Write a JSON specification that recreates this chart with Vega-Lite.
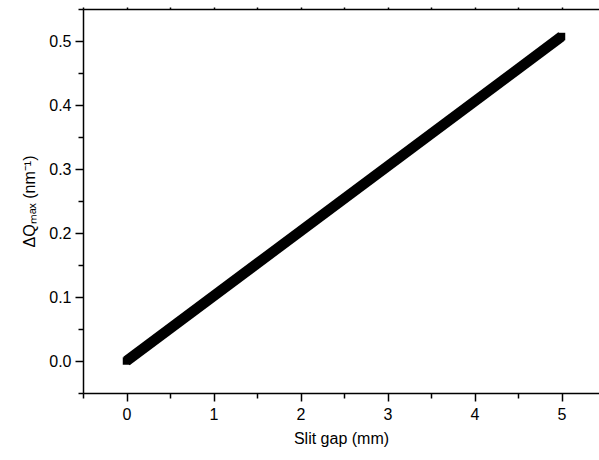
{
  "$schema": "https://vega.github.io/schema/vega-lite/v6.json",
  "autosize": {"type": "none"},
  "padding": {"left": 83, "top": 9, "right": 0, "bottom": 67},
  "width": 516,
  "height": 384,
  "background": "white",
  "config": {
    "view": {"stroke": null},
    "axis": {
      "labelFont": "Liberation Sans",
      "titleFont": "Liberation Sans",
      "labelFontSize": 16,
      "titleFontSize": 16,
      "titleFontWeight": "normal",
      "labelColor": "#000000",
      "titleColor": "#000000",
      "domainColor": "#000000",
      "tickColor": "#000000",
      "domainWidth": 1.5,
      "tickWidth": 1.5,
      "grid": false
    }
  },
  "data": {"values": [
    {"gap": 0, "dq": 0.0},
    {"gap": 5, "dq": 0.507}
  ]},
  "layer": [
    {
      "mark": {"type": "line", "color": "#000000", "strokeWidth": 10.5, "strokeCap": "butt", "clip": false,
               "point": {"shape": "square", "size": 56, "filled": true, "color": "#000000", "strokeWidth": 0}},
      "encoding": {
        "x": {"field": "gap", "type": "quantitative",
              "scale": {"domain": [-0.5, 5.431], "nice": false, "zero": false},
              "axis": {"orient": "bottom", "title": "Slit gap (mm)",
                       "values": [-0.5, 0, 0.5, 1, 1.5, 2, 2.5, 3, 3.5, 4, 4.5, 5],
                       "labelExpr": "round(datum.value*2)%2===0 ? format(datum.value,'d') : ''",
                       "tickSize": {"condition": {"test": "round(datum.value*2)%2===0", "value": 8}, "value": 5},
                       "labelPadding": 5, "titlePadding": 8, "labelFlush": false, "labelOverlap": false}},
        "y": {"field": "dq", "type": "quantitative",
              "scale": {"domain": [-0.05, 0.55], "nice": false, "zero": false},
              "axis": {"orient": "left", "title": "ΔQₘₐₓ (nm⁻¹)",
                       "values": [-0.05, 0, 0.05, 0.1, 0.15, 0.2, 0.25, 0.3, 0.35, 0.4, 0.45, 0.5, 0.55],
                       "labelExpr": "round(datum.value*20)%2===0 ? format(datum.value,'.1f') : ''",
                       "tickSize": {"condition": {"test": "round(datum.value*20)%2===0", "value": 8}, "value": 5},
                       "labelPadding": 4, "titlePadding": 11, "labelFlush": false, "labelOverlap": false}}
      }
    },
    {
      "mark": {"type": "tick", "opacity": 0},
      "encoding": {
        "x": {"field": "gap", "type": "quantitative",
              "scale": {"domain": [-0.5, 5.431], "nice": false, "zero": false},
              "axis": {"orient": "top", "title": null, "labels": false,
                       "values": [-0.5, 0, 0.5, 1, 1.5, 2, 2.5, 3, 3.5, 4, 4.5, 5],
                       "tickSize": 2}}
      }
    }
  ],
  "resolve": {"axis": {"x": "independent"}}
}
